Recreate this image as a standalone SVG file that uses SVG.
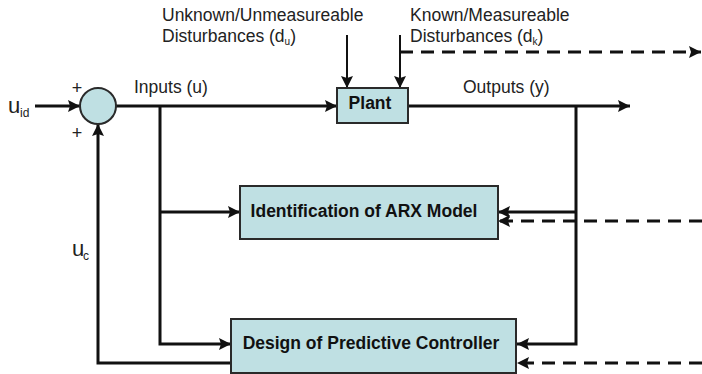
<svg xmlns="http://www.w3.org/2000/svg" width="702" height="374" viewBox="0 0 702 374">
<defs>
<style>
.lbl{font-family:"Liberation Sans",Arial,sans-serif;font-size:17.5px;fill:#222}
.bold{font-family:"Liberation Sans",Arial,sans-serif;font-size:17.5px;font-weight:bold;fill:#111}
.sub{font-size:10px}
.big{font-family:"Liberation Sans",Arial,sans-serif;font-size:22px;fill:#222}
.small{font-family:"Liberation Sans",Arial,sans-serif;font-size:12px;fill:#222}
.plus{font-family:"Liberation Sans",Arial,sans-serif;font-size:18px;fill:#222}
.box{fill:#bfe0e3;stroke:#2a2a2a;stroke-width:2}
.w{fill:none;stroke:#111;stroke-width:3}
.t{fill:none;stroke:#111;stroke-width:2}
.d{fill:none;stroke:#111;stroke-width:3;stroke-dasharray:13 8}
</style>
<marker id="ah" markerUnits="userSpaceOnUse" markerWidth="14" markerHeight="14" refX="12" refY="6" orient="auto" viewBox="0 0 14 12">
<path d="M0,0 L12,6 L0,12 L2,6 z" fill="#111" stroke="none"/>
</marker>
</defs>
<rect width="702" height="374" fill="#ffffff"/>

<g id="connectors">
<path class="w" d="M35,106 H80" marker-end="url(#ah)"/>
<path class="w" d="M116,106 H337" marker-end="url(#ah)"/>
<path class="w" d="M408,106 H630" marker-end="url(#ah)"/>
<path class="w" d="M576,106 V344 H517" marker-end="url(#ah)"/>
<path class="w" d="M576,212 H498" marker-end="url(#ah)"/>
<path class="w" d="M160,106 V344 H231" marker-end="url(#ah)"/>
<path class="w" d="M160,212 H240" marker-end="url(#ah)"/>
<path class="w" d="M231,363 H98 V124" marker-end="url(#ah)"/>
<path class="t" d="M347,35 V88" marker-end="url(#ah)"/>
<path class="t" d="M400,35 V88" marker-end="url(#ah)"/>
<path class="d" d="M400,52 H701" marker-end="url(#ah)"/>
<path class="d" d="M702,221 H498" marker-end="url(#ah)"/>
<path class="d" d="M702,363 H517" marker-end="url(#ah)"/>
</g>

<g id="sum">
<circle cx="98" cy="106" r="18" fill="#bfe0e3" stroke="#2a2a2a" stroke-width="2"/>
<text class="plus" x="77" y="94" text-anchor="middle">+</text>
<text class="plus" x="77" y="139" text-anchor="middle">+</text>
</g>

<g id="plant">
<rect class="box" x="337" y="88" width="71" height="35"/>
<text class="bold" x="370" y="109" text-anchor="middle">Plant</text>
</g>

<g id="arx">
<rect class="box" x="240" y="186" width="258" height="53"/>
<text class="bold" x="364" y="217" text-anchor="middle">Identification of ARX Model</text>
</g>

<g id="controller">
<rect class="box" x="231" y="319" width="285" height="54"/>
<text class="bold" x="371" y="349" text-anchor="middle">Design of Predictive Controller</text>
</g>

<g id="labels">
<text class="big" x="8" y="113">u</text>
<text class="small" x="20" y="117">id</text>
<text class="big" x="72" y="256">u</text>
<text class="small" x="83" y="260">c</text>
<text class="lbl" x="134" y="93">Inputs (u)</text>
<text class="lbl" x="463" y="93">Outputs (y)</text>
<text class="lbl" x="162" y="21">Unknown/Unmeasureable</text>
<text class="lbl" x="162" y="42">Disturbances (d<tspan class="sub" dy="3">u</tspan><tspan dy="-3">)</tspan></text>
<text class="lbl" x="410" y="21">Known/Measureable</text>
<text class="lbl" x="410" y="42">Disturbances (d<tspan class="sub" dy="3">k</tspan><tspan dy="-3">)</tspan></text>
</g>
</svg>
